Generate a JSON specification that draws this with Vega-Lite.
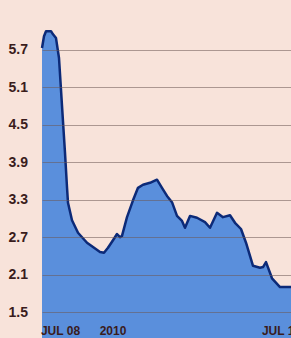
{
  "$schema": "https://vega.github.io/schema/vega-lite/v6.json",
  "width": 249,
  "height": 312,
  "autosize": {"type": "none"},
  "padding": {"left": 42, "top": 0, "right": 0, "bottom": 26},
  "background": "#f8e3da",
  "config": {"view": {"stroke": null}},
  "data": {"values": [
    {"t": 0, "v": 5.73}, {"t": 2, "v": 5.92}, {"t": 4, "v": 6.0}, {"t": 9, "v": 6.0}, {"t": 11, "v": 5.95},
    {"t": 14, "v": 5.89}, {"t": 17, "v": 5.57}, {"t": 19, "v": 5.06}, {"t": 21, "v": 4.55}, {"t": 23, "v": 4.05},
    {"t": 25, "v": 3.5}, {"t": 26, "v": 3.25}, {"t": 30, "v": 2.97}, {"t": 36, "v": 2.77}, {"t": 45, "v": 2.61},
    {"t": 51, "v": 2.54}, {"t": 58, "v": 2.46}, {"t": 62, "v": 2.45}, {"t": 66, "v": 2.53}, {"t": 71, "v": 2.65},
    {"t": 75, "v": 2.75}, {"t": 78, "v": 2.7}, {"t": 80, "v": 2.72}, {"t": 85, "v": 3.02}, {"t": 91, "v": 3.29},
    {"t": 96, "v": 3.49}, {"t": 101, "v": 3.54}, {"t": 108, "v": 3.57}, {"t": 115, "v": 3.62}, {"t": 120, "v": 3.49},
    {"t": 125, "v": 3.36}, {"t": 130, "v": 3.26}, {"t": 135, "v": 3.04}, {"t": 140, "v": 2.96}, {"t": 143, "v": 2.85},
    {"t": 148, "v": 3.04}, {"t": 155, "v": 3.01}, {"t": 163, "v": 2.94}, {"t": 168, "v": 2.85}, {"t": 175, "v": 3.09},
    {"t": 181, "v": 3.02}, {"t": 188, "v": 3.05}, {"t": 193, "v": 2.93}, {"t": 199, "v": 2.83}, {"t": 204, "v": 2.61},
    {"t": 211, "v": 2.24}, {"t": 218, "v": 2.21}, {"t": 221, "v": 2.22}, {"t": 224, "v": 2.3}, {"t": 230, "v": 2.04},
    {"t": 238, "v": 1.9}, {"t": 249, "v": 1.9}
  ]},
  "mark": {"type": "area", "color": "#5a8fdc", "opacity": 1, "line": {"color": "#0c2a78", "strokeWidth": 2.5, "strokeJoin": "round"}},
  "encoding": {
    "x": {"field": "t", "type": "quantitative", "scale": {"domain": [0, 249], "nice": false, "zero": false},
      "axis": {"title": null, "values": [18, 70.5, 239], "labelExpr": "datum.value < 30 ? 'JUL 08' : datum.value < 100 ? '2010' : 'JUL 10'",
        "domain": false, "ticks": false, "grid": false, "labelPadding": 13, "labelBaseline": "top", "labelFont": "Liberation Sans",
        "labelFontWeight": "bold", "labelFontSize": 12, "labelColor": "#3a1c1c", "labelFlush": false, "labelOverlap": false, "zindex": 1}},
    "y": {"field": "v", "type": "quantitative", "scale": {"domain": [1.5, 6.5], "nice": false, "zero": false},
      "axis": {"title": null, "values": [1.5, 2.1, 2.7, 3.3, 3.9, 4.5, 5.1, 5.7], "format": ".1f", "zindex": 1,
        "domain": false, "ticks": false, "grid": true, "gridColor": "#6e5a55", "gridOpacity": 0.55, "gridWidth": 1,
        "labelAlign": "left", "labelPadding": 34, "labelFont": "Liberation Sans",
        "labelFontWeight": "bold", "labelFontSize": 14, "labelColor": "#3a1c1c", "labelFlush": false, "labelOverlap": false}}
  }
}
